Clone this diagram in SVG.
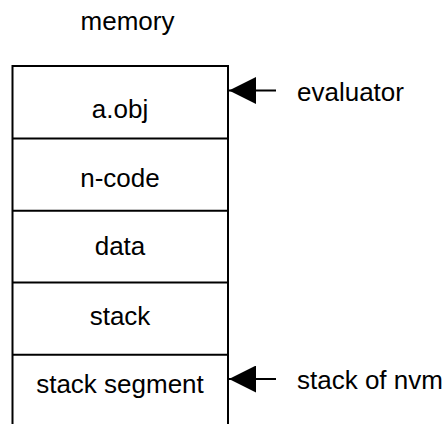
<svg xmlns="http://www.w3.org/2000/svg" width="447" height="424" viewBox="0 0 447 424">
<style>
text{font-family:"Liberation Sans",Arial,sans-serif;font-size:26px;fill:#000}
.c{text-anchor:middle}
.ln{stroke:#000;stroke-width:2;fill:none}
</style>
<defs>
<marker id="ah" markerWidth="27" markerHeight="27" refX="27" refY="13.5" orient="auto" markerUnits="userSpaceOnUse" viewBox="0 0 27 27">
<path d="M27,13.5 L0,0 L0,27 Z" fill="#000"/>
</marker>
</defs>
<rect width="447" height="424" fill="#fff"/>
<g id="title"><text class="c" x="127.5" y="29.5">memory</text></g>
<g id="memory-box">
<path class="ln" d="M12.5,424 V66 H228 V424"/>
</g>
<g id="aobj"><path class="ln" d="M12.5,138.5 H228"/><text class="c" x="120" y="118.3">a.obj</text></g>
<g id="ncode"><path class="ln" d="M12.5,210.7 H228"/><text class="c" x="120" y="186.7">n-code</text></g>
<g id="data"><path class="ln" d="M12.5,282.5 H228"/><text class="c" x="120" y="255">data</text></g>
<g id="stack"><path class="ln" d="M12.5,354.7 H228"/><text class="c" x="120" y="325">stack</text></g>
<g id="stack-segment"><text class="c" x="120" y="393.3">stack segment</text></g>
<g id="evaluator"><text x="297" y="100.7">evaluator</text></g>
<g id="stack-of-nvm"><text x="297" y="389">stack of nvm</text></g>
<g id="connectors">
<path class="ln" d="M276,90.5 H229" marker-end="url(#ah)"/>
<path class="ln" d="M276,379 H229" marker-end="url(#ah)"/>
</g>
</svg>
